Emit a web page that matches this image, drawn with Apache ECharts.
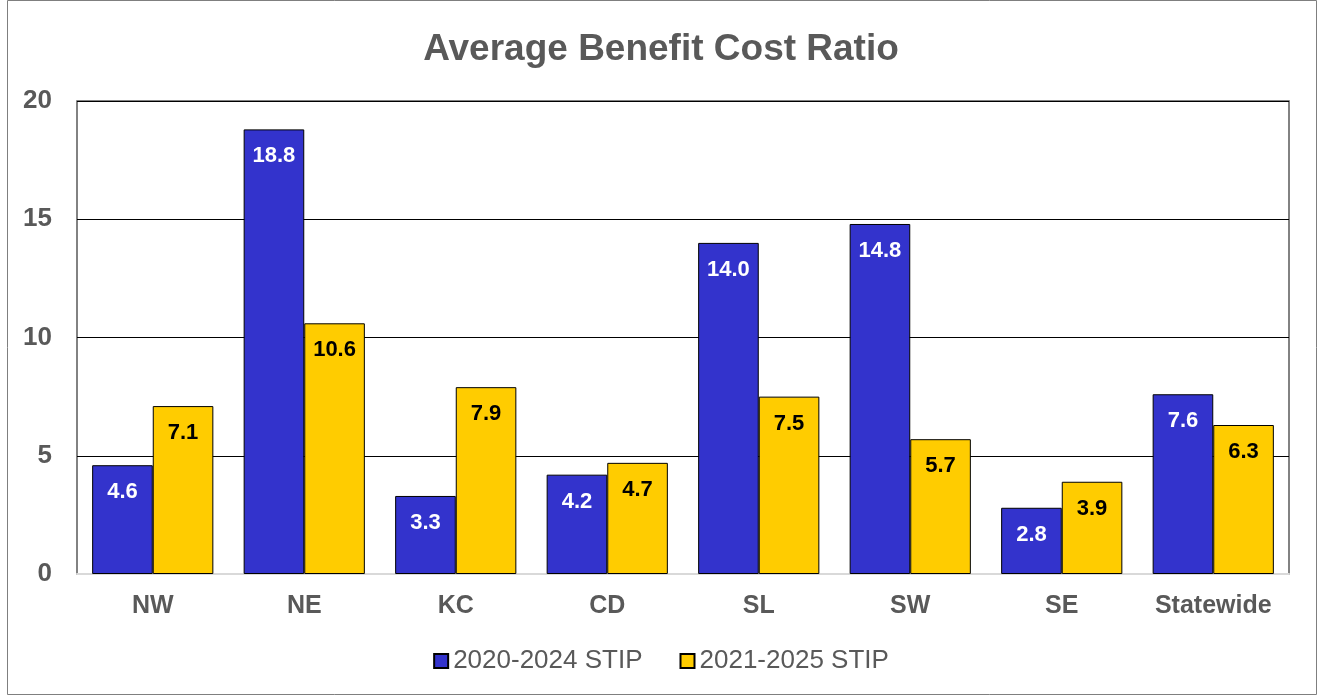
<!DOCTYPE html>
<html>
<head>
<meta charset="utf-8">
<script src="https://cdn.jsdelivr.net/npm/echarts@6/dist/echarts.min.js"></script>
<style>
  html, body { margin: 0; padding: 0; background: #fff; }
  #chart { width: 1322px; height: 696px; }
</style>
</head>
<body>
<div id="chart"></div>
<script>
var categories = ['NW', 'NE', 'KC', 'CD', 'SL', 'SW', 'SE', 'Statewide'];
var stip2020 = [4.6, 18.8, 3.3, 4.2, 14.0, 14.8, 2.8, 7.6];
var stip2021 = [7.1, 10.6, 7.9, 4.7, 7.5, 5.7, 3.9, 6.3];
var seriesNames = ['2020-2024 STIP', '2021-2025 STIP'];

var chart = echarts.init(document.getElementById('chart'));
var font = '"Liberation Sans", Arial, sans-serif';

// value labels inside the top of each bar
function barLabel(color) {
  return {
    show: true,
    position: 'insideTop',
    distance: 16,
    fontSize: 22,
    fontWeight: 'bold',
    color: color,
    fontFamily: font,
    formatter: function (p) { return p.value.toFixed(1); }
  };
}

chart.setOption({
  animation: false,
  textStyle: { fontFamily: font },
  title: {
    text: 'Average Benefit Cost Ratio',
    left: 'center',
    top: 26,
    textStyle: { fontSize: 37, fontWeight: 'bold', color: '#595959', fontFamily: font }
  },
  legend: {
    bottom: 17,
    left: 'center',
    icon: 'rect',
    itemWidth: 14,
    itemHeight: 14,
    itemGap: 37,
    textStyle: { fontSize: 26, color: '#595959', fontFamily: font },
    data: seriesNames
  },
  graphic: [{
    type: 'rect',
    shape: { x: 7.5, y: 0.5, width: 1309, height: 694 },
    style: { fill: 'none', stroke: '#7f7f7f', lineWidth: 1 },
    silent: true
  }],
  grid: {
    left: 77,
    right: 33,
    top: 101,
    bottom: 122,
    show: true,
    borderColor: '#595959',
    borderWidth: 1.5
  },
  xAxis: {
    type: 'category',
    data: categories,
    axisLine: { lineStyle: { color: '#d9d9d9', width: 2 } },
    axisTick: { show: false },
    axisLabel: { interval: 0, fontSize: 25, fontWeight: 'bold', color: '#595959', margin: 20, fontFamily: font }
  },
  yAxis: {
    type: 'value',
    min: 0,
    max: 20,
    interval: 5,
    axisLine: { show: false },
    axisTick: { show: false },
    axisLabel: { fontSize: 26, fontWeight: 'bold', color: '#595959', margin: 25, fontFamily: font },
    splitLine: { lineStyle: { color: '#000', width: 1 } }
  },
  series: [{
    name: seriesNames[0],
    type: 'bar',
    data: stip2020,
    barGap: 0,
    barCategoryGap: '20%',
    itemStyle: { color: '#3333CC', borderColor: '#000', borderWidth: 1 },
    label: barLabel('#fff')
  }, {
    name: seriesNames[1],
    type: 'bar',
    data: stip2021,
    barGap: 0,
    barCategoryGap: '20%',
    itemStyle: { color: '#FFCC00', borderColor: '#000', borderWidth: 1 },
    label: barLabel('#000')
  }]
});
</script>
</body>
</html>
